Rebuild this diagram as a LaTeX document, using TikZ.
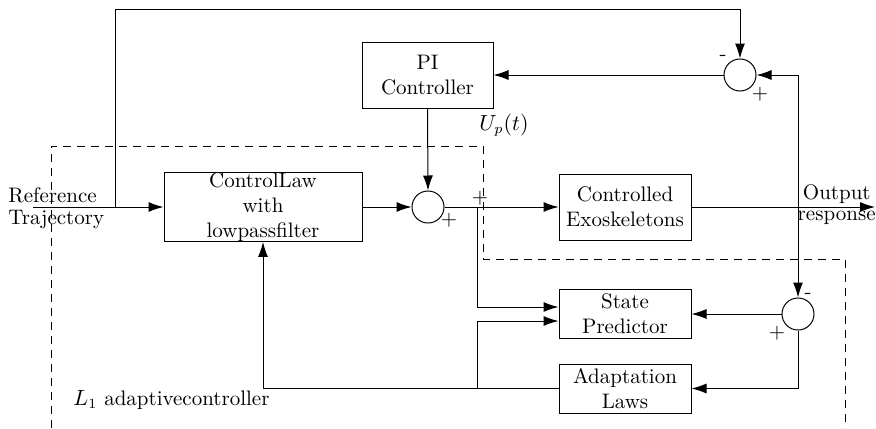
\documentclass[tikz,border=0pt]{standalone}
\usetikzlibrary{arrows.meta,positioning}
\begin{document}
\begin{tikzpicture}[x=0.5pt,y=-0.5pt,
  every node/.style={font=\fontsize{10.5}{12.5}\selectfont},
  blk/.style={draw,line width=0.5pt,inner sep=0pt,align=center},
  sumc/.style={draw,circle,line width=0.5pt,minimum size=16pt,inner sep=0pt},
  arr/.style={line width=0.5pt,-{Latex[length=7.5pt,width=5pt]}},
  ln/.style={line width=0.5pt},
  dsh/.style={line width=0.5pt,dash pattern=on 4pt off 3pt},
  lbl/.style={inner sep=0pt}]
\useasboundingbox (0,0) rectangle (876,428);
% blocks
\node[blk,minimum width=99pt,minimum height=32.5pt] (cl) at (263,207) {ControlLaw\\with\\lowpassfilter};
\node[blk,minimum width=65.5pt,minimum height=33pt] (pi) at (427.5,75) {PI\\Controller};
\node[blk,minimum width=66pt,minimum height=33pt] (ce) at (625,207) {Controlled\\Exoskeletons};
\node[blk,minimum width=66pt,minimum height=24.5pt] (sp) at (625,314) {State\\Predictor};
\node[blk,minimum width=66pt,minimum height=24.5pt] (al) at (625,388.5) {Adaptation\\Laws};
% summing junctions
\node[sumc] (s1) at (428,207) {};
\node[sumc] (s2) at (740,75) {};
\node[sumc] (s3) at (798,314) {};
% coordinates
\coordinate (in) at (33,207);
\coordinate (j1) at (115,207);
\coordinate (tl) at (115,9);
\coordinate (j2) at (798,207);
\coordinate (out) at (875,207);
\coordinate (j4) at (477,207);
\coordinate (j3) at (477,388.5);
% connectors
\draw[arr] (in) -- (cl.west);
\draw[ln] (j1) -- (tl);
\draw[arr] (tl) -| (s2.north);
\draw[arr] (s2.west) -- (pi.east);
\draw[arr] (pi.south) -- (s1.north);
\draw[arr] (cl.east) -- (s1.west);
\draw[arr] (s1.east) -- (ce.west);
\draw[arr] (ce.east) -- (out);
\draw[arr] (j2) |- (s2.east);
\draw[arr] (j2) -- (s3.north);
\draw[arr] (s3.west) -- (sp.east);
\draw[arr] (s3.south) |- (al.east);
\draw[arr] (al.west) -| (cl.south);
\draw[arr] (j4) |- ([yshift=3.5pt]sp.west);
\draw[arr] (j3) |- ([yshift=-3.5pt]sp.west);
% dashed boundary
\draw[dsh] (51,428) -- (51,146) -- (483,146) -- (483,259) -- (845,259) -- (845,428);
% signs
\node[lbl] (m2) at (723,58) {-};
\node[lbl] (p2) at (760,94) {+};
\node[lbl] (p1) at (449,220) {+};
\node[lbl] (p4) at (480,198) {+};
\node[lbl] (m3) at (808,296) {-};
\node[lbl] (p3) at (777,333) {+};
% labels
\node[lbl] (up) at (504,125) {$U_p(t)$};
\node[lbl,anchor=west] (l1) at (73,400) {$L_1$ adaptivecontroller};
\node[lbl,anchor=west] (ref1) at (8,195) {Reference};
\node[lbl,anchor=west] (ref2) at (8,220) {Trajectory};
\node[lbl,anchor=east] (o1) at (871,194) {Output};
\node[lbl,anchor=east] (o2) at (876,218) {response};
\end{tikzpicture}
\end{document}
